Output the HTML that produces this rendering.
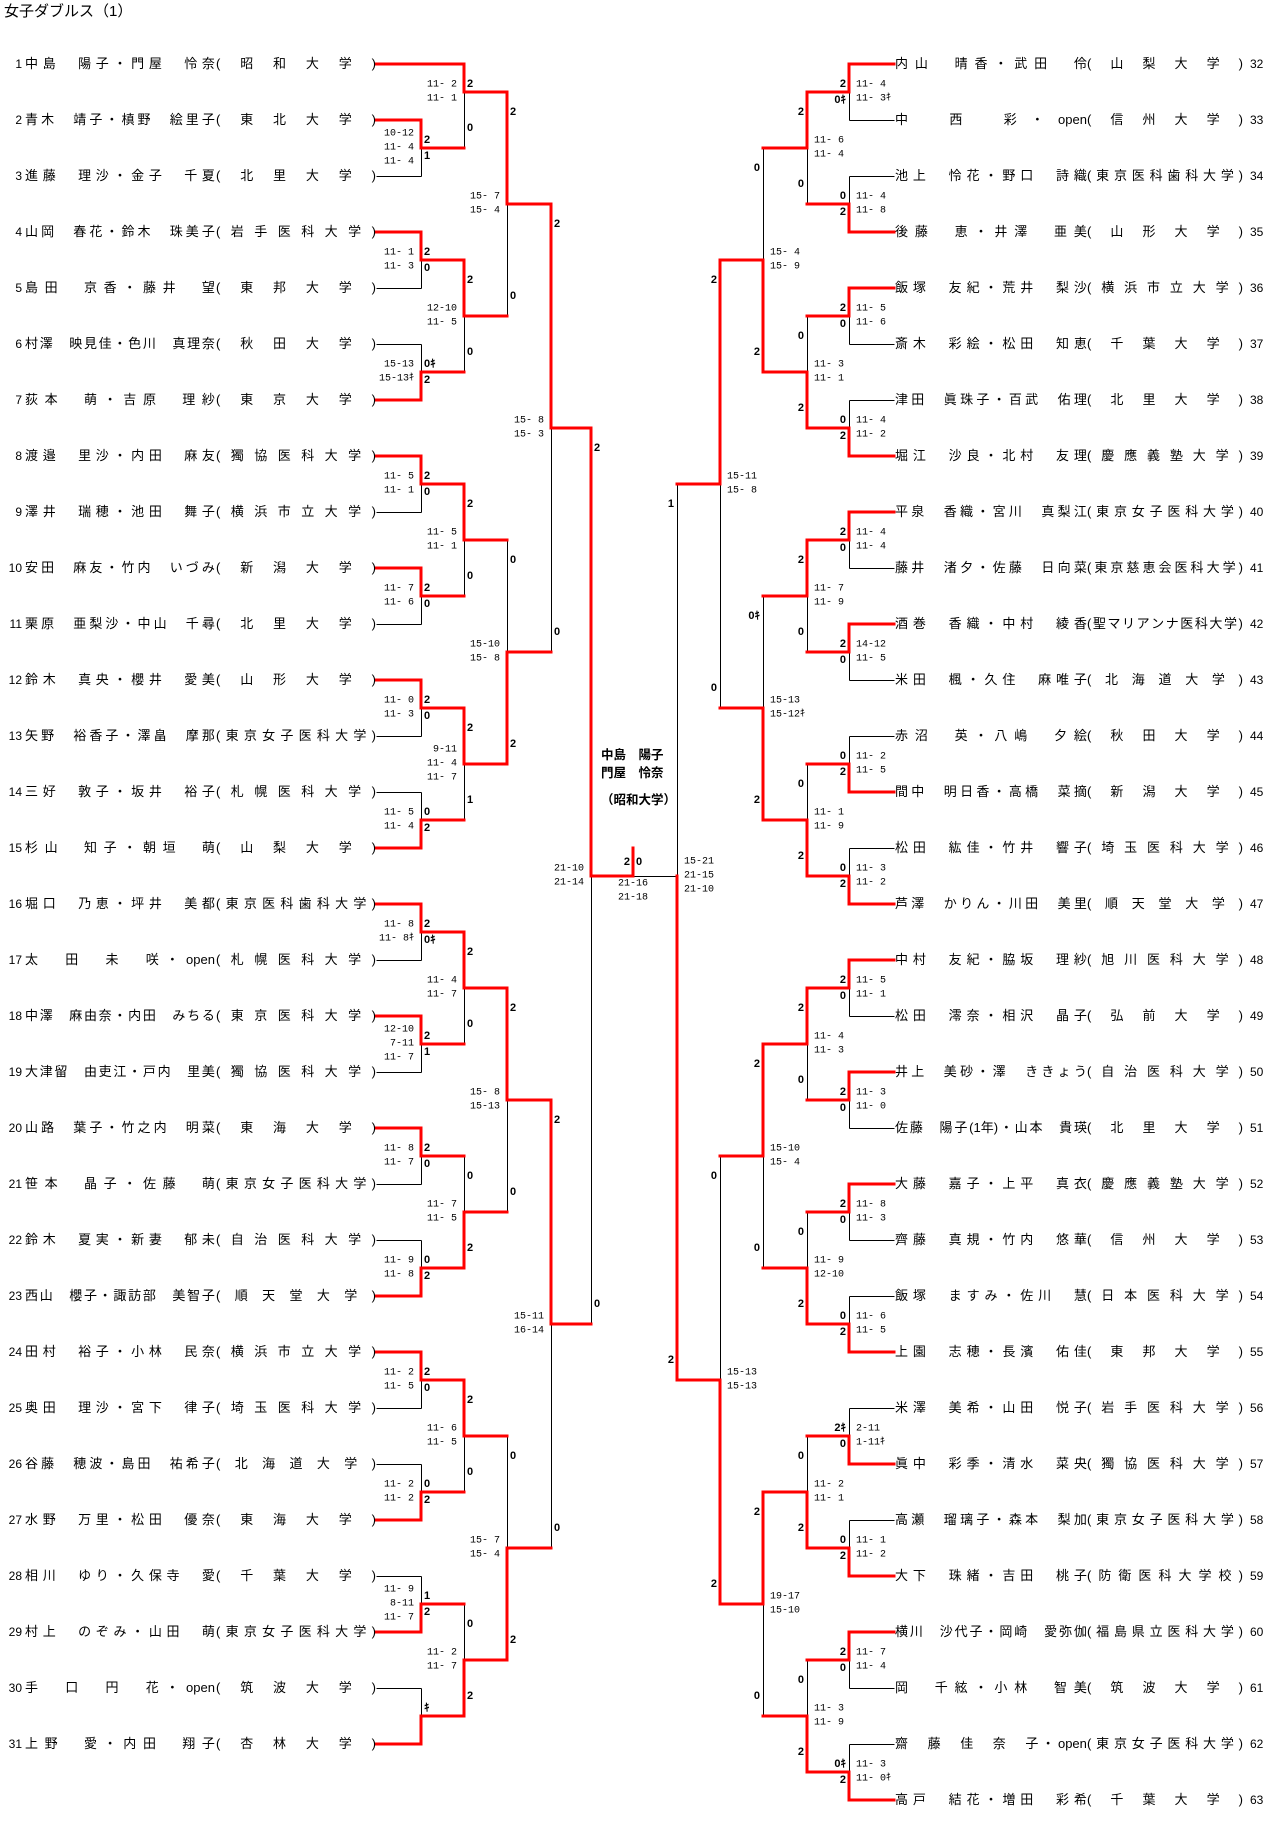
<!DOCTYPE html>
<html><head><meta charset="utf-8">
<style>
html,body{margin:0;padding:0;background:#fff;}
body{width:1267px;height:1829px;position:relative;overflow:hidden;font-family:"Liberation Sans","Noto Sans CJK JP",sans-serif;}
svg{position:absolute;left:0;top:0;}
.title{position:absolute;left:4px;top:2px;font-size:15px;line-height:20px;}
.f{position:absolute;height:16px;line-height:16px;font-size:13px;display:flex;justify-content:space-between;white-space:nowrap;}
.n{position:absolute;height:16px;line-height:16px;font-size:12px;}
.w{position:absolute;font-weight:bold;font-size:12.5px;line-height:18px;white-space:pre;}
</style></head><body>
<div class="title">女子ダブルス（1）</div>
<div class="w" style="left:601px;top:746px;">中島　陽子</div>
<div class="w" style="left:601px;top:764px;">門屋　怜奈</div>
<div class="w" style="left:601px;top:791px;">（昭和大学）</div>
<svg id="s" width="1267" height="1829" xmlns="http://www.w3.org/2000/svg"></svg>
<div id="names"></div>
<script>
var LN=["中島　陽子・門屋　怜奈|昭和大学","青木　靖子・槙野　絵里子|東北大学","進藤　理沙・金子　千夏|北里大学","山岡　春花・鈴木　珠美子|岩手医科大学","島田　京香・藤井　望|東邦大学","村澤　映見佳・色川　真理奈|秋田大学","荻本　萌・吉原　理紗|東京大学","渡邉　里沙・内田　麻友|獨協医科大学","澤井　瑞穂・池田　舞子|横浜市立大学","安田　麻友・竹内　いづみ|新潟大学","栗原　亜梨沙・中山　千尋|北里大学","鈴木　真央・櫻井　愛美|山形大学","矢野　裕香子・澤畠　摩那|東京女子医科大学","三好　敦子・坂井　裕子|札幌医科大学","杉山　知子・朝垣　萌|山梨大学","堀口　乃恵・坪井　美都|東京医科歯科大学","太　田　未　咲・open|札幌医科大学","中澤　麻由奈・内田　みちる|東京医科大学","大津留　由吏江・戸内　里美|獨協医科大学","山路　葉子・竹之内　明菜|東海大学","笹本　晶子・佐藤　萌|東京女子医科大学","鈴木　夏実・新妻　郁未|自治医科大学","西山　櫻子・諏訪部　美智子|順天堂大学","田村　裕子・小林　民奈|横浜市立大学","奥田　理沙・宮下　律子|埼玉医科大学","谷藤　穂波・島田　祐希子|北海道大学","水野　万里・松田　優奈|東海大学","相川　ゆり・久保寺　愛|千葉大学","村上　のぞみ・山田　萌|東京女子医科大学","手　口　円　花・open|筑波大学","上野　愛・内田　翔子|杏林大学"];
var RN=["内山　晴香・武田　伶|山梨大学","中　西　彩・open|信州大学","池上　怜花・野口　詩織|東京医科歯科大学","後藤　恵・井澤　亜美|山形大学","飯塚　友紀・荒井　梨沙|横浜市立大学","斎木　彩絵・松田　知恵|千葉大学","津田　眞珠子・百武　佑理|北里大学","堀江　沙良・北村　友理|慶應義塾大学","平泉　香織・宮川　真梨江|東京女子医科大学","藤井　渚夕・佐藤　日向菜|東京慈恵会医科大学","酒巻　香織・中村　綾香|聖マリアンナ医科大学","米田　楓・久住　麻唯子|北海道大学","赤沼　英・八嶋　夕絵|秋田大学","間中　明日香・高橋　菜摘|新潟大学","松田　紘佳・竹井　響子|埼玉医科大学","芦澤　かりん・川田　美里|順天堂大学","中村　友紀・脇坂　理紗|旭川医科大学","松田　澪奈・相沢　晶子|弘前大学","井上　美砂・澤　ききょう|自治医科大学","佐藤　陽子(1年)・山本　貴瑛|北里大学","大藤　嘉子・上平　真衣|慶應義塾大学","齊藤　真規・竹内　悠華|信州大学","飯塚　ますみ・佐川　慧|日本医科大学","上園　志穂・長濱　佑佳|東邦大学","米澤　美希・山田　悦子|岩手医科大学","眞中　彩季・清水　菜央|獨協医科大学","高瀬　瑠璃子・森本　梨加|東京女子医科大学","大下　珠緒・吉田　桃子|防衛医科大学校","横川　沙代子・岡崎　愛弥伽|福島県立医科大学","岡　千絃・小林　智美|筑波大学","齋　藤　佳　奈　子・open|東京女子医科大学","高戸　結花・増田　彩希|千葉大学"];
function toks(s){return s.match(/open|\(1年\)|./gu);}
function field(l,w,y,items){var h='<div class="f" style="left:'+l+'px;top:'+(y-8)+'px;width:'+w+'px;">';items.forEach(function(t){h+='<span>'+(t==='　'?'&#12288;':t)+'</span>';});return h+'</div>';}
var H='';
LN.forEach(function(s,i){var y=64+56*i,p=s.split('|');
 H+='<div class="n" style="left:0;width:22px;text-align:right;top:'+(y-8)+'px;">'+(i+1)+'</div>';
 H+=field(25,190,y,toks(p[0]));
 H+=field(216,160,y,['('].concat(toks(p[1])).concat([')']));});
RN.forEach(function(s,i){var y=64+56*i,p=s.split('|');
 H+='<div class="n" style="left:1250px;top:'+(y-8)+'px;">'+(i+32)+'</div>';
 H+=field(895,192,y,toks(p[0]));
 H+=field(1087,156,y,['('].concat(toks(p[1])).concat([')']));});
document.getElementById('names').innerHTML=H;

var XL=[376,421,464,507,551,591,633],XR=[894,849,807,763,720,677,633];
var M=[
['L',1,120,176,148,'t',["10-12","11- 4","11- 4"],["2","1"]],
['L',2,64,148,92,'t',["11- 2","11- 1"],["2","0"]],
['L',1,232,288,260,'t',["11- 1","11- 3"],["2","0"]],
['L',1,344,400,372,'b',["15-13","15-13ｷ"],["0ｷ","2"]],
['L',2,260,372,316,'t',["12-10","11- 5"],["2","0"]],
['L',3,92,316,204,'t',["15- 7","15- 4"],["2","0"]],
['L',1,456,512,484,'t',["11- 5","11- 1"],["2","0"]],
['L',1,568,624,596,'t',["11- 7","11- 6"],["2","0"]],
['L',2,484,596,540,'t',["11- 5","11- 1"],["2","0"]],
['L',1,680,736,708,'t',["11- 0","11- 3"],["2","0"]],
['L',1,792,848,820,'b',["11- 5","11- 4"],["0","2"]],
['L',2,708,820,764,'t',["9-11","11- 4","11- 7"],["2","1"]],
['L',3,540,764,652,'b',["15-10","15- 8"],["0","2"]],
['L',4,204,652,428,'t',["15- 8","15- 3"],["2","0"]],
['L',1,904,960,932,'t',["11- 8","11- 8ｷ"],["2","0ｷ"]],
['L',1,1016,1072,1044,'t',["12-10","7-11","11- 7"],["2","1"]],
['L',2,932,1044,988,'t',["11- 4","11- 7"],["2","0"]],
['L',1,1128,1184,1156,'t',["11- 8","11- 7"],["2","0"]],
['L',1,1240,1296,1268,'b',["11- 9","11- 8"],["0","2"]],
['L',2,1156,1268,1212,'b',["11- 7","11- 5"],["0","2"]],
['L',3,988,1212,1100,'t',["15- 8","15-13"],["2","0"]],
['L',1,1352,1408,1380,'t',["11- 2","11- 5"],["2","0"]],
['L',1,1464,1520,1492,'b',["11- 2","11- 2"],["0","2"]],
['L',2,1380,1492,1436,'t',["11- 6","11- 5"],["2","0"]],
['L',1,1576,1632,1604,'b',["11- 9","8-11","11- 7"],["1","2"]],
['L',1,1688,1744,1716,'b',[],["ｷ",""]],
['L',2,1604,1716,1660,'b',["11- 2","11- 7"],["0","2"]],
['L',3,1436,1660,1548,'b',["15- 7","15- 4"],["0","2"]],
['L',4,1100,1548,1324,'t',["15-11","16-14"],["2","0"]],
['L',5,428,1324,876,'t',["21-10","21-14"],["2","0"]],
['R',1,64,120,92,'t',["11- 4","11- 3ｷ"],["2","0ｷ"]],
['R',1,176,232,204,'b',["11- 4","11- 8"],["0","2"]],
['R',2,92,204,148,'t',["11- 6","11- 4"],["2","0"]],
['R',1,288,344,316,'t',["11- 5","11- 6"],["2","0"]],
['R',1,400,456,428,'b',["11- 4","11- 2"],["0","2"]],
['R',2,316,428,372,'b',["11- 3","11- 1"],["0","2"]],
['R',3,148,372,260,'b',["15- 4","15- 9"],["0","2"]],
['R',1,512,568,540,'t',["11- 4","11- 4"],["2","0"]],
['R',1,624,680,652,'t',["14-12","11- 5"],["2","0"]],
['R',2,540,652,596,'t',["11- 7","11- 9"],["2","0"]],
['R',1,736,792,764,'b',["11- 2","11- 5"],["0","2"]],
['R',1,848,904,876,'b',["11- 3","11- 2"],["0","2"]],
['R',2,764,876,820,'b',["11- 1","11- 9"],["0","2"]],
['R',3,596,820,708,'b',["15-13","15-12ｷ"],["0ｷ","2"]],
['R',4,260,708,484,'t',["15-11","15- 8"],["2","0"]],
['R',1,960,1016,988,'t',["11- 5","11- 1"],["2","0"]],
['R',1,1072,1128,1100,'t',["11- 3","11- 0"],["2","0"]],
['R',2,988,1100,1044,'t',["11- 4","11- 3"],["2","0"]],
['R',1,1184,1240,1212,'t',["11- 8","11- 3"],["2","0"]],
['R',1,1296,1352,1324,'b',["11- 6","11- 5"],["0","2"]],
['R',2,1212,1324,1268,'b',["11- 9","12-10"],["0","2"]],
['R',3,1044,1268,1156,'t',["15-10","15- 4"],["2","0"]],
['R',1,1408,1464,1436,'b',["2-11","1-11ｷ"],["2ｷ","0"]],
['R',1,1520,1576,1548,'b',["11- 1","11- 2"],["0","2"]],
['R',2,1436,1548,1492,'b',["11- 2","11- 1"],["0","2"]],
['R',1,1632,1688,1660,'t',["11- 7","11- 4"],["2","0"]],
['R',1,1744,1800,1772,'b',["11- 3","11- 0ｷ"],["0ｷ","2"]],
['R',2,1660,1772,1716,'b',["11- 3","11- 9"],["0","2"]],
['R',3,1492,1716,1604,'t',["19-17","15-10"],["2","0"]],
['R',4,1156,1604,1380,'b',["15-13","15-13"],["0","2"]],
['R',5,484,1380,876,'b',["15-21","21-15","21-10"],["1","2"]]
];
var B='',Rd='',T='';
function bl(x1,y1,x2,y2){B+='<line x1="'+(x1+.5)+'" y1="'+(y1+.5)+'" x2="'+(x2+.5)+'" y2="'+(y2+.5)+'"/>';}
function rl(x1,y1,x2,y2){Rd+='<line x1="'+x1+'" y1="'+y1+'" x2="'+x2+'" y2="'+y2+'"/>';}
function sc(x,y,s,anc){T+='<text x="'+x+'" y="'+y+'" text-anchor="'+anc+'" class="sc">'+s+'</text>';}
function dg(x,y,s,anc){T+='<text x="'+x+'" y="'+y+'" text-anchor="'+anc+'" class="dg">'+s+'</text>';}
M.forEach(function(m){
 var L=m[0]==='L',X=L?XL:XR,lv=m[1],x=X[lv],xn=X[lv+1],y1=m[2],y2=m[3],yo=m[4];
 bl(x,y1,x,y2);
 var wy=m[5]==='t'?y1:y2;
 rl(x,wy,x,yo);
 if(lv<5) rl(x,yo,xn,yo);
 if(lv===1){bl(X[0],y1,x,y1);bl(X[0],y2,x,y2);rl(X[0],wy,x,wy);}
 var n=m[6].length;
 m[6].forEach(function(s,i){var yy=yo-(n-1)*7+i*14;if(L)sc(x-7,yy,s,'end');else sc(x+7,yy,s,'start');});
 if(L){dg(x+3,y1+20,m[7][0],'start');dg(x+3,y2-20,m[7][1],'start');}
 else{dg(x-3,y1+20,m[7][0],'end');dg(x-3,y2-20,m[7][1],'end');}
});
rl(376,64,464,64);
rl(591,876,633,876);rl(633,876,633,848);
bl(633,876,677,876);
dg(630,862,'2','end');dg(636,862,'0','start');
sc(633,884,'21-16','middle');sc(633,898,'21-18','middle');
document.getElementById('s').innerHTML=
'<style>.sc{font-family:"Liberation Mono",monospace;font-size:10px;white-space:pre;dominant-baseline:central;}.dg{font-family:"Liberation Sans","Noto Sans CJK JP",sans-serif;font-size:11px;font-weight:bold;dominant-baseline:central;}</style>'+
'<g stroke="#000" stroke-width="1" shape-rendering="crispEdges">'+B+'</g>'+
'<g stroke="#ff0000" stroke-width="3" stroke-linecap="square">'+Rd+'</g>'+
'<g fill="#000">'+T+'</g>';
</script>
</body></html>
